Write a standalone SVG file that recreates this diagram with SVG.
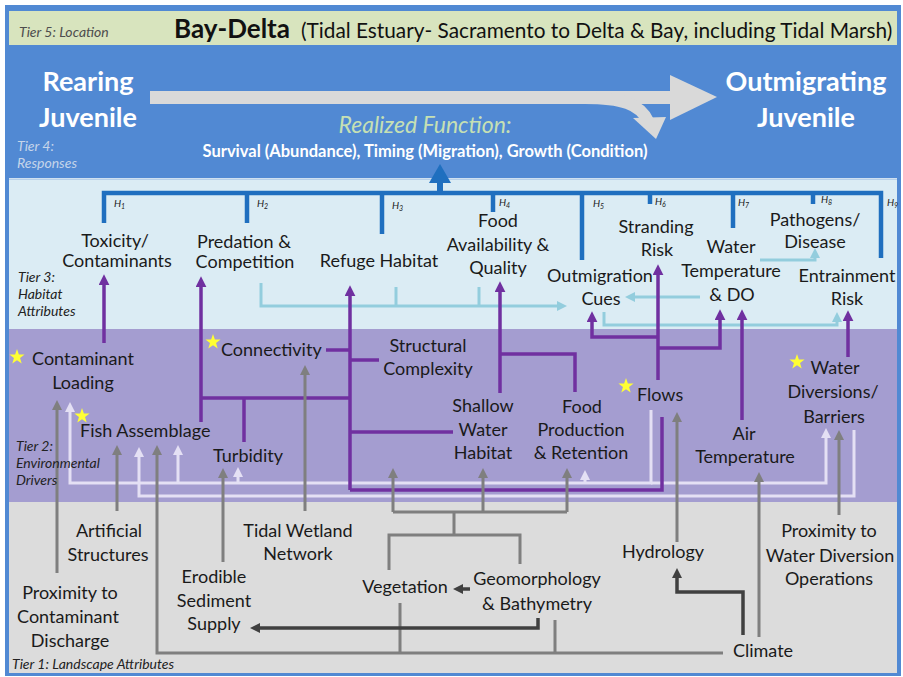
<svg xmlns="http://www.w3.org/2000/svg" width="903" height="677" viewBox="0 0 903 677">
<defs>
<style>
text{font-family:Lato,"Open Sans","Liberation Sans",sans-serif;}
.lb{font-size:18px;fill:#1a1a1a;text-anchor:middle;}
.ls{font-size:18px;fill:#1a1a1a;}
.tier{font-size:14px;font-style:italic;fill:#222;}
.h{font-size:10px;font-style:italic;fill:#222;}
.sub{font-size:7px;}
.big{font-size:27px;font-weight:bold;fill:#fff;text-anchor:middle;}
.cp{fill:none;stroke:#7030a0;stroke-width:3.5;}
.cg{fill:none;stroke:#7f7f7f;stroke-width:3;}
.cd{fill:none;stroke:#404040;stroke-width:3.5;}
.cc{fill:none;stroke:#93cddd;stroke-width:3;}
.cl{fill:none;stroke:#e4e0f4;stroke-width:3;}
.br{fill:none;stroke:#1f6fbf;stroke-width:4.5;}
.star{fill:#ffff33;}
</style>
<marker id="mp" viewBox="0 0 10 10" refX="2" refY="5" markerWidth="11" markerHeight="11" markerUnits="userSpaceOnUse" orient="auto"><path d="M0,0L10,5L0,10z" fill="#7030a0"/></marker>
<marker id="mg" viewBox="0 0 10 10" refX="2" refY="5" markerWidth="10" markerHeight="10" markerUnits="userSpaceOnUse" orient="auto"><path d="M0,0L10,5L0,10z" fill="#7f7f7f"/></marker>
<marker id="md" viewBox="0 0 10 10" refX="2" refY="5" markerWidth="10" markerHeight="10" markerUnits="userSpaceOnUse" orient="auto"><path d="M0,0L10,5L0,10z" fill="#404040"/></marker>
<marker id="mc" viewBox="0 0 10 10" refX="2" refY="5" markerWidth="10" markerHeight="10" markerUnits="userSpaceOnUse" orient="auto"><path d="M0,0L10,5L0,10z" fill="#93cddd"/></marker>
<marker id="ml" viewBox="0 0 10 10" refX="2" refY="5" markerWidth="10" markerHeight="10" markerUnits="userSpaceOnUse" orient="auto"><path d="M0,0L10,5L0,10z" fill="#e4e0f4"/></marker>
<path id="star" class="star" d="M0,-8L1.88,-2.59L7.61,-2.47L3.04,0.99L4.7,6.47L0,3.2L-4.7,6.47L-3.04,0.99L-7.61,-2.47L-1.88,-2.59Z"/>
</defs>

<!-- backgrounds -->
<g id="tiers">
<rect x="0" y="0" width="903" height="677" fill="#fff"/>
<rect x="5" y="5" width="896" height="671" fill="#5189d3"/>
<rect x="9" y="11" width="888" height="34" fill="#d8e4be"/>
<rect x="9" y="178" width="888" height="1.5" fill="#cfe0f0"/>
<rect x="9" y="179.5" width="888" height="150" fill="#dbecf4"/>
<rect x="9" y="329" width="888" height="173" fill="#a49dd0"/>
<rect x="9" y="502" width="888" height="171" fill="#dcdcdc"/>
</g>

<!-- Tier 5 -->
<g id="tier5">
<text class="tier" x="19" y="37" style="fill:#4d4d4d">Tier 5: Location</text>
<text x="174" y="38" font-size="26" font-weight="bold" fill="#111">Bay-Delta</text>
<text x="301" y="38" font-size="20.8" fill="#111">(Tidal Estuary- Sacramento to Delta &amp; Bay, including Tidal Marsh)</text>
</g>

<!-- Tier 4 -->
<g id="tier4">
<g id="big-arrow" fill="#d9d9d9">
<rect x="150" y="91" width="524" height="13"/>
<polygon points="670,75 717,97 670,120"/>
<path d="M585,98 C622,98 640,104 648,121" fill="none" stroke="#d9d9d9" stroke-width="12"/>
<polygon points="633,118 666,117 656,139"/>
</g>
<g id="n-rearing"><text class="big" x="88" y="91">Rearing</text><text class="big" x="88" y="127">Juvenile</text></g>
<g id="n-outmigrating"><text class="big" x="806" y="91">Outmigrating</text><text class="big" x="806" y="127">Juvenile</text></g>
<g id="n-realized">
<text x="425" y="133" font-size="23" font-style="italic" fill="#c6e0b4" text-anchor="middle">Realized Function:</text>
<text x="425" y="157" font-size="16.5" font-weight="bold" fill="#fff" text-anchor="middle">Survival (Abundance), Timing (Migration), Growth (Condition)</text>
</g>
<text class="tier" x="17" y="151" style="fill:#c5d5ea">Tier 4:</text>
<text class="tier" x="17" y="168" style="fill:#c5d5ea">Responses</text>
</g>

<!-- connectors -->
<g id="connectors">
<g id="bracket">
<path class="br" d="M104,223V193H881V258"/>
<path class="br" d="M247,193V223M382,193V234M493,193V212M582,193V260M650,193V204M733,193V228M813,193V204"/>
<path d="M440,193V181" stroke="#1f6fbf" stroke-width="6" fill="none"/>
<polygon points="429,183 440,164 451,183" fill="#1f6fbf"/>
</g>
<!-- light lavender (tier 2) -->
<path class="cl" d="M651,410V483H70V410" marker-end="url(#ml)"/>
<path class="cl" d="M178,483V453" marker-end="url(#ml)"/>
<path class="cl" d="M238,483V475" marker-end="url(#ml)"/>
<path class="cl" d="M585,484V478" marker-end="url(#ml)"/>
<path class="cl" d="M651,483H826V436" marker-end="url(#ml)"/>
<path class="cl" d="M854,430V496H139V455" marker-end="url(#ml)"/>
<!-- cyan (tier 3) -->
<path class="cc" d="M261,283V306H559" marker-end="url(#mc)"/>
<path class="cc" d="M396,287V306M479,287V306"/>
<path class="cc" d="M700,297H633" marker-end="url(#mc)"/>
<path class="cc" d="M760,260H815V256" marker-end="url(#mc)"/>
<path class="cc" d="M604,312V325H837V320" marker-end="url(#mc)"/>
<!-- purple -->
<path class="cp" d="M104,343V283" marker-end="url(#mp)"/>
<path class="cp" d="M201,422V285" marker-end="url(#mp)"/>
<path class="cp" d="M201,398H350M244,398V442"/>
<path class="cp" d="M350,490V294" marker-end="url(#mp)"/>
<path class="cp" d="M326,350H350M350,360H379M350,432H453"/>
<path class="cp" d="M350,490H662V417"/>
<path class="cp" d="M500,393V290" marker-end="url(#mp)"/>
<path class="cp" d="M500,354H575V392"/>
<path class="cp" d="M658,380V273" marker-end="url(#mp)"/>
<path class="cp" d="M658,337H592V320" marker-end="url(#mp)"/>
<path class="cp" d="M658,348H720V318" marker-end="url(#mp)"/>
<path class="cp" d="M742,420V318" marker-end="url(#mp)"/>
<path class="cp" d="M848,357V319" marker-end="url(#mp)"/>
<!-- gray -->
<path class="cg" d="M57,573V408" marker-end="url(#mg)"/>
<path class="cg" d="M117,511V453" marker-end="url(#mg)"/>
<path class="cg" d="M723,653H157V453" marker-end="url(#mg)"/>
<path class="cg" d="M223,562V476" marker-end="url(#mg)"/>
<path class="cg" d="M305,511V373" marker-end="url(#mg)"/>
<path class="cg" d="M393,512V476" marker-end="url(#mg)"/>
<path class="cg" d="M483,512V476" marker-end="url(#mg)"/>
<path class="cg" d="M567,512V476" marker-end="url(#mg)"/>
<path class="cg" d="M393,512H567M454,512V535M389,570V535H520V564"/>
<path class="cg" d="M400,603V653M555,620V653"/>
<path class="cg" d="M677,542V420" marker-end="url(#mg)"/>
<path class="cg" d="M759,637V480" marker-end="url(#mg)"/>
<path class="cg" d="M839,515V438" marker-end="url(#mg)"/>
<!-- dark -->
<path class="cd" d="M743,635V592H677V576" marker-end="url(#md)"/>
<path class="cd" d="M470,589H461" marker-end="url(#md)"/>
<path class="cd" d="M538,618V628H258" marker-end="url(#md)"/>
</g>

<!-- H labels -->
<g id="h-labels">
<text class="h" x="114" y="207">H<tspan class="sub" dy="2">1</tspan></text>
<text class="h" x="257" y="207">H<tspan class="sub" dy="2">2</tspan></text>
<text class="h" x="392" y="209">H<tspan class="sub" dy="2">3</tspan></text>
<text class="h" x="499" y="206">H<tspan class="sub" dy="2">4</tspan></text>
<text class="h" x="593" y="207">H<tspan class="sub" dy="2">5</tspan></text>
<text class="h" x="655" y="205">H<tspan class="sub" dy="2">6</tspan></text>
<text class="h" x="738" y="206">H<tspan class="sub" dy="2">7</tspan></text>
<text class="h" x="821" y="203">H<tspan class="sub" dy="2">8</tspan></text>
<text class="h" x="887" y="206">H<tspan class="sub" dy="2">9</tspan></text>
</g>

<!-- Tier 3 nodes -->
<g id="n-toxicity"><text class="lb" x="115" y="247">Toxicity/</text><text class="lb" x="117" y="267">Contaminants</text></g>
<g id="n-predation"><text class="lb" x="244" y="248">Predation &amp;</text><text class="lb" x="245" y="268">Competition</text></g>
<g id="n-refuge"><text class="lb" x="379" y="267">Refuge Habitat</text></g>
<g id="n-food-avail"><text class="lb" x="498" y="227">Food</text><text class="lb" x="498" y="251">Availability &amp;</text><text class="lb" x="498" y="274">Quality</text></g>
<g id="n-cues"><text class="lb" x="600" y="282">Outmigration</text><text class="lb" x="601" y="305">Cues</text></g>
<g id="n-stranding"><text class="lb" x="656" y="233">Stranding</text><text class="lb" x="657" y="256">Risk</text></g>
<g id="n-watertemp"><text class="lb" x="731" y="253">Water</text><text class="lb" x="731" y="277">Temperature</text><text class="lb" x="732" y="301">&amp; DO</text></g>
<g id="n-pathogens"><text class="lb" x="815" y="226">Pathogens/</text><text class="lb" x="815" y="248">Disease</text></g>
<g id="n-entrainment"><text class="lb" x="847" y="282">Entrainment</text><text class="lb" x="847" y="305">Risk</text></g>
<g id="tier3-label"><text class="tier" x="18" y="282">Tier 3:</text><text class="tier" x="18" y="299">Habitat</text><text class="tier" x="18" y="316">Attributes</text></g>

<!-- Tier 2 nodes -->
<g id="n-contam-loading"><use href="#star" x="17" y="357"/><text class="lb" x="83" y="365">Contaminant</text><text class="lb" x="83" y="389">Loading</text></g>
<g id="n-connectivity"><use href="#star" x="213" y="342"/><text class="ls" x="221" y="356">Connectivity</text></g>
<g id="n-structural"><text class="lb" x="428" y="352">Structural</text><text class="lb" x="428" y="375">Complexity</text></g>
<g id="n-fish"><use href="#star" x="82" y="416"/><text class="ls" x="80" y="437">Fish Assemblage</text></g>
<g id="n-turbidity"><text class="lb" x="248" y="462">Turbidity</text></g>
<g id="n-shallow"><text class="lb" x="483" y="412">Shallow</text><text class="lb" x="483" y="436">Water</text><text class="lb" x="483" y="459">Habitat</text></g>
<g id="n-food-prod"><text class="lb" x="582" y="413">Food</text><text class="lb" x="581" y="436">Production</text><text class="lb" x="581" y="459">&amp; Retention</text></g>
<g id="n-flows"><use href="#star" x="626" y="386"/><text class="ls" x="637" y="401">Flows</text></g>
<g id="n-airtemp"><text class="lb" x="744" y="440">Air</text><text class="lb" x="745" y="463">Temperature</text></g>
<g id="n-waterdiv"><use href="#star" x="797" y="362"/><text class="lb" x="835" y="374">Water</text><text class="lb" x="833" y="398">Diversions/</text><text class="lb" x="834" y="423">Barriers</text></g>
<g id="tier2-label"><text class="tier" x="16" y="451">Tier 2:</text><text class="tier" x="16" y="468">Environmental</text><text class="tier" x="16" y="485">Drivers</text></g>

<!-- Tier 1 nodes -->
<g id="n-artificial"><text class="lb" x="109" y="537">Artificial</text><text class="lb" x="108" y="561">Structures</text></g>
<g id="n-tidal"><text class="lb" x="298" y="537">Tidal Wetland</text><text class="lb" x="298" y="560">Network</text></g>
<g id="n-erodible"><text class="lb" x="214" y="583">Erodible</text><text class="lb" x="214" y="607">Sediment</text><text class="lb" x="214" y="630">Supply</text></g>
<g id="n-prox-contam"><text class="lb" x="70" y="599">Proximity to</text><text class="lb" x="68" y="623">Contaminant</text><text class="lb" x="70" y="647">Discharge</text></g>
<g id="n-vegetation"><text class="lb" x="405" y="593">Vegetation</text></g>
<g id="n-geomorph"><text class="lb" x="537" y="585">Geomorphology</text><text class="lb" x="537" y="610">&amp; Bathymetry</text></g>
<g id="n-hydrology"><text class="lb" x="663" y="558">Hydrology</text></g>
<g id="n-climate"><text class="lb" x="763" y="657">Climate</text></g>
<g id="n-prox-water"><text class="lb" x="829" y="537">Proximity to</text><text class="lb" x="830" y="562">Water Diversion</text><text class="lb" x="829" y="585">Operations</text></g>
<g id="tier1-label"><text class="tier" x="12" y="669">Tier 1: Landscape Attributes</text></g>
</svg>
